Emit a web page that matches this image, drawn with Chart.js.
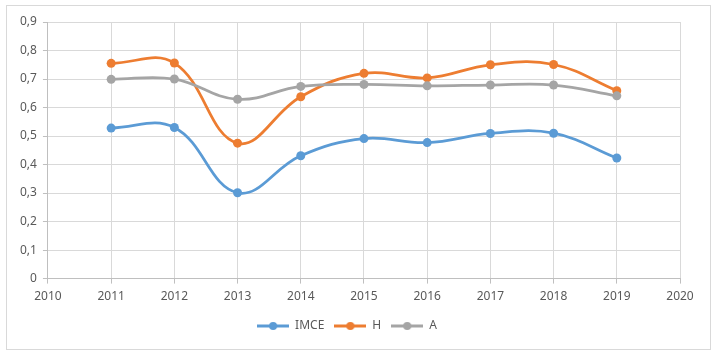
<!DOCTYPE html>
<html>
<head>
<meta charset="utf-8">
<script src="https://cdn.jsdelivr.net/npm/chart.js@4/dist/chart.umd.min.js"></script>
<style>
  html, body { margin: 0; padding: 0; background: #fff; }
  #wrap { position: relative; width: 716px; height: 354px; }
  #frame { position: absolute; left: 6px; top: 5px; width: 703px; height: 343px; border: 1px solid #d9d9d9; }
  #chart { position: absolute; left: 0; top: 0; }
</style>
</head>
<body>
<div id="wrap">
  <div id="frame"></div>
  <canvas id="chart" width="716" height="354"></canvas>
</div>
<script>
const years = [2011, 2012, 2013, 2014, 2015, 2016, 2017, 2018, 2019]
const imce = [0.528, 0.530, 0.301, 0.431, 0.491, 0.477, 0.509, 0.510, 0.423]
const hValues = [0.755, 0.756, 0.475, 0.638, 0.720, 0.704, 0.750, 0.751, 0.659]
const aValues = [0.699, 0.700, 0.629, 0.674, 0.681, 0.676, 0.679, 0.679, 0.641]

const azul = '#5b9bd5'
const naranja = '#ed7d31'
const gris = '#a5a5a5'

const fuente = "'Liberation Sans Narrow', 'Noto Sans', sans-serif"

function puntos(valores) {
  return years.map((y, i) => ({ x: y, y: valores[i] }))
}

// icono de leyenda: linea con circulo
function iconoLeyenda(color) {
  const c = document.createElement('canvas')
  c.width = 32
  c.height = 10
  const ctx = c.getContext('2d')
  ctx.strokeStyle = color
  ctx.lineWidth = 3
  ctx.beginPath()
  ctx.moveTo(0, 5)
  ctx.lineTo(32, 5)
  ctx.stroke()
  ctx.fillStyle = color
  ctx.beginPath()
  ctx.arc(16, 5, 4, 0, Math.PI * 2)
  ctx.fill()
  return c
}

function serie(label, valores, color, orden) {
  return {
    label: label,
    data: puntos(valores),
    borderColor: color,
    backgroundColor: color,
    borderWidth: 2.75,
    pointRadius: 4.5,
    pointBorderWidth: 0,
    tension: 0.4,
    order: orden,
    icono: iconoLeyenda(color)
  }
}

const ctxChart = document.getElementById('chart')

new Chart(ctxChart, {
  type: 'line',
  data: {
    datasets: [
      serie('IMCE', imce, azul, 3),
      serie('H', hValues, naranja, 2),
      serie('A', aValues, gris, 1)
    ]
  },
  options: {
    responsive: false,
    animation: false,
    layout: { padding: { left: 14, right: 36, top: 22, bottom: 12 } },
    plugins: {
      tooltip: { enabled: false },
      legend: {
        position: 'bottom',
        labels: {
          usePointStyle: true,
          pointStyleWidth: 32,
          boxHeight: 10,
          font: { family: fuente, size: 12 },
          color: '#595959',
          padding: 10,
          generateLabels: (chart) => chart.data.datasets.map((ds, i) => ({
            text: ds.label,
            pointStyle: ds.icono,
            fillStyle: ds.borderColor,
            strokeStyle: ds.borderColor,
            lineWidth: 0,
            fontColor: '#595959',
            datasetIndex: i
          }))
        }
      }
    },
    scales: {
      x: {
        type: 'linear',
        min: 2010,
        max: 2020,
        ticks: {
          stepSize: 1,
          padding: 6,
          color: '#595959',
          font: { family: fuente, size: 12 },
          callback: (v) => String(v)
        },
        grid: { color: '#d9d9d9', tickLength: 5, tickColor: '#bfbfbf' },
        border: { color: '#bfbfbf' }
      },
      y: {
        min: 0,
        max: 0.9,
        ticks: {
          stepSize: 0.1,
          color: '#595959',
          font: { family: fuente, size: 12 },
          padding: 6,
          callback: (v) => v === 0 ? '0' : v.toFixed(1).replace('.', ',')
        },
        grid: { color: '#d9d9d9', tickLength: 5, tickColor: '#bfbfbf' },
        border: { color: '#bfbfbf' }
      }
    }
  }
})
</script>
</body>
</html>
